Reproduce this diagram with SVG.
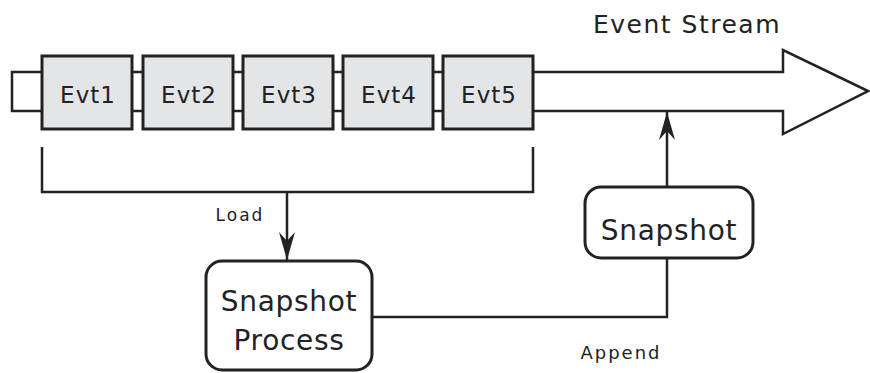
<svg xmlns="http://www.w3.org/2000/svg" width="870" height="373" viewBox="0 0 870 373">
<style>
.ln{fill:none;stroke:#222;stroke-width:2.5}
.evt{fill:#e3e5e7;stroke:#222;stroke-width:3}
.box{fill:#fff;stroke:#222;stroke-width:3}
.t{font-family:"DejaVu Sans","Liberation Sans",sans-serif;fill:#222}
.e{font-size:23px;letter-spacing:1px}
.s{font-size:28px;letter-spacing:0.7px}
</style>
<defs>
<marker id="ah" viewBox="0 0 28 18" refX="28" refY="9" markerWidth="28" markerHeight="18" markerUnits="userSpaceOnUse" orient="auto">
<path d="M0,1 L28,9 L0,17 L9,9 Z" fill="#222"/>
</marker>
</defs>
<g id="stream">
<path d="M12,72 L783,72 L783,50 L868,91 L783,134 L783,111 L12,111 Z" fill="#fff" stroke="#222" stroke-width="2.5"/>
<text class="t" x="687" y="33" font-size="25" letter-spacing="1.5" text-anchor="middle">Event Stream</text>
</g>
<g id="evt1"><rect class="evt" x="42" y="56" width="90" height="73"/><text class="t e" x="88" y="103" text-anchor="middle">Evt1</text></g>
<g id="evt2"><rect class="evt" x="143" y="56" width="90" height="73"/><text class="t e" x="189" y="103" text-anchor="middle">Evt2</text></g>
<g id="evt3"><rect class="evt" x="243" y="56" width="90" height="73"/><text class="t e" x="289" y="103" text-anchor="middle">Evt3</text></g>
<g id="evt4"><rect class="evt" x="343" y="56" width="90" height="73"/><text class="t e" x="389" y="103" text-anchor="middle">Evt4</text></g>
<g id="evt5"><rect class="evt" x="443" y="56" width="90" height="73"/><text class="t e" x="489" y="103" text-anchor="middle">Evt5</text></g>
<g id="snapshotProcess">
<rect class="box" x="206" y="261" width="166" height="109" rx="16"/>
<text class="t s" x="289" y="311" text-anchor="middle">Snapshot</text>
<text class="t s" x="289" y="350" text-anchor="middle">Process</text>
</g>
<g id="snapshot">
<rect class="box" x="585" y="187" width="168" height="71" rx="16"/>
<text class="t s" x="669" y="240" text-anchor="middle">Snapshot</text>
</g>
<g id="connectors">
<path class="ln" d="M42,147 L42,192 L533,192 L533,147"/>
<path class="ln" d="M287,192 L287,260" marker-end="url(#ah)"/>
<text class="t" x="240" y="221" font-size="17" letter-spacing="2" text-anchor="middle">Load</text>
<path class="ln" d="M372,317 L667,317 L667,258"/>
<path class="ln" d="M667,187 L667,112" marker-end="url(#ah)"/>
<text class="t" x="621" y="359" font-size="18" letter-spacing="2" text-anchor="middle">Append</text>
</g>
</svg>
